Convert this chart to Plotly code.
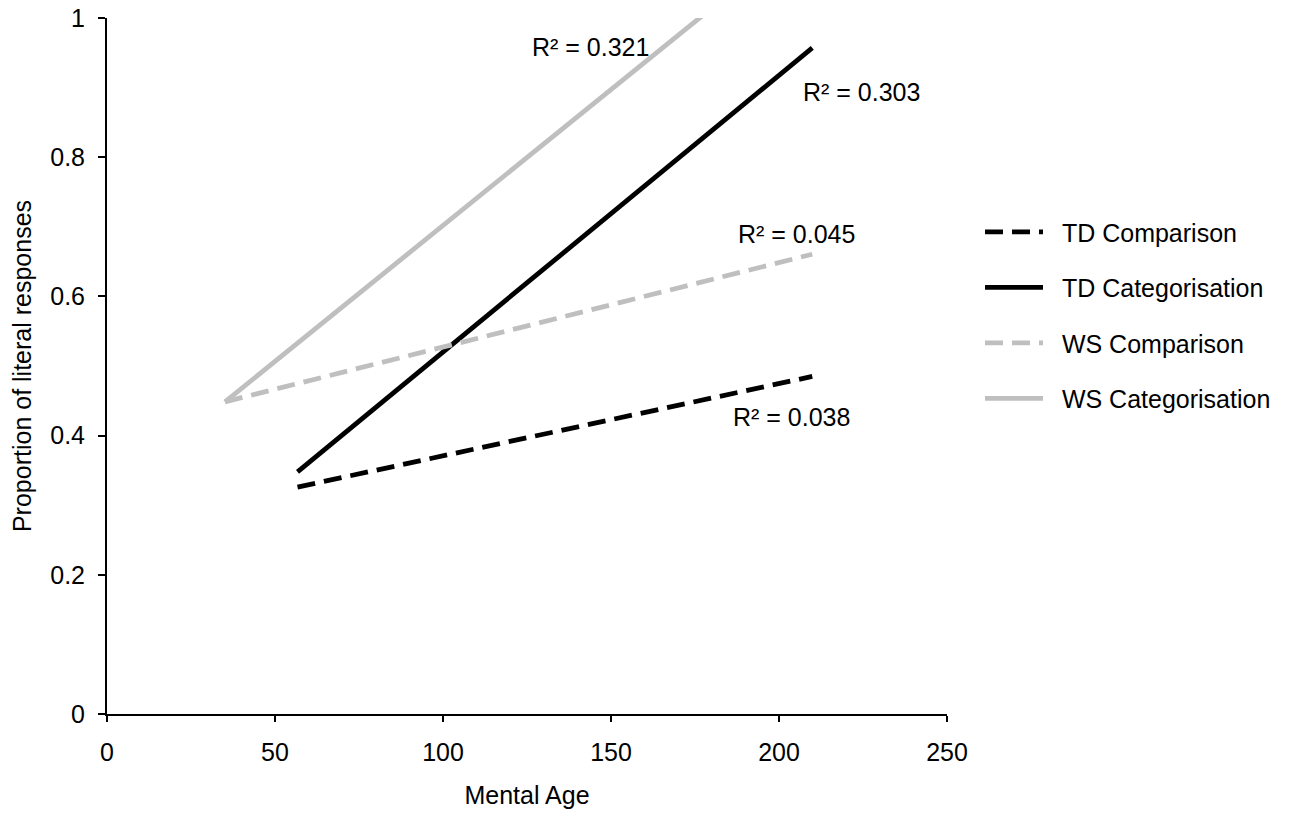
import plotly.graph_objects as go

# Trendline endpoints (Mental Age, proportion of literal responses)
td_comp_x = [56.7, 209.9]
td_comp_y = [0.326, 0.485]
td_cat_x = [56.7, 209.9]
td_cat_y = [0.348, 0.957]
ws_comp_x = [35.1, 209.9]
ws_comp_y = [0.4485, 0.6606]
ws_cat_x = [35.1, 209.9]
ws_cat_y = [0.4485, 1.131]

series_names = ["TD Comparison", "TD Categorisation", "WS Comparison", "WS Categorisation"]
r2_labels = ["R² = 0.321", "R² = 0.303", "R² = 0.045", "R² = 0.038"]

x_ticks = [0, 50, 100, 150, 200, 250]
y_ticks = [0, 0.2, 0.4, 0.6, 0.8, 1]
y_tick_text = ["0", "0.2", "0.4", "0.6", "0.8", "1"]

FONT = "Liberation Sans, Arial, sans-serif"
FS = 25
BLACK = "#000000"
GREY = "#BFBFBF"
LW = 4.8
DASH = "18px,9px"
PAD = "\u00a0\u00a0"

fig = go.Figure()
fig.add_trace(go.Scatter(x=td_comp_x, y=td_comp_y, mode="lines", name=PAD + series_names[0],
                         legendgroup="a", line=dict(color=BLACK, width=LW, dash=DASH)))
fig.add_trace(go.Scatter(x=td_cat_x, y=td_cat_y, mode="lines", name=PAD + series_names[1],
                         legendgroup="b", line=dict(color=BLACK, width=LW)))
fig.add_trace(go.Scatter(x=ws_comp_x, y=ws_comp_y, mode="lines", name=PAD + series_names[2],
                         legendgroup="c", line=dict(color=GREY, width=LW, dash=DASH)))
fig.add_trace(go.Scatter(x=ws_cat_x, y=ws_cat_y, mode="lines", name=PAD + series_names[3],
                         legendgroup="d", line=dict(color=GREY, width=LW)))

label_pos = [(143.75, 0.958), (224.6, 0.894), (205.1, 0.690), (203.6, 0.427)]
for txt, (lx, ly) in zip(r2_labels, label_pos):
    fig.add_annotation(x=lx, y=ly, xref="x", yref="y", text=txt, showarrow=False,
                       font=dict(family=FONT, size=FS, color=BLACK),
                       xanchor="center", yanchor="middle")

fig.update_layout(
    width=1301, height=816,
    margin=dict(l=107, r=354, t=18, b=102, autoexpand=False),
    paper_bgcolor="white", plot_bgcolor="white",
    font=dict(family=FONT, size=FS, color=BLACK),
    showlegend=True,
    legend=dict(x=1.0393, xanchor="left", y=0.573, yanchor="middle",
                xref="paper", yref="paper",
                font=dict(family=FONT, size=FS, color=BLACK),
                tracegroupgap=20, itemwidth=58, bgcolor="rgba(0,0,0,0)"),
    xaxis=dict(range=[0, 250], tickvals=x_ticks, ticktext=[str(v) for v in x_ticks],
               showgrid=False, zeroline=False, showline=True, linecolor=BLACK, linewidth=2,
               ticks="outside", ticklen=6, tickwidth=1.5, tickcolor=BLACK,
               ticklabelstandoff=9,
               tickfont=dict(family=FONT, size=FS, color=BLACK),
               title=dict(text="Mental Age", font=dict(family=FONT, size=FS, color=BLACK), standoff=21)),
    yaxis=dict(range=[0, 1], tickvals=y_ticks, ticktext=y_tick_text,
               showgrid=False, zeroline=False, showline=True, linecolor=BLACK, linewidth=2,
               ticks="outside", ticklen=7, tickwidth=1.5, tickcolor=BLACK,
               ticklabelstandoff=8,
               tickfont=dict(family=FONT, size=FS, color=BLACK),
               title=dict(text="Proportion of literal responses", font=dict(family=FONT, size=FS, color=BLACK), standoff=11)),
)

fig.write_html("out.html", config={"displayModeBar": False},
               post_script="document.body.style.margin='0';document.body.style.overflow='hidden';")
